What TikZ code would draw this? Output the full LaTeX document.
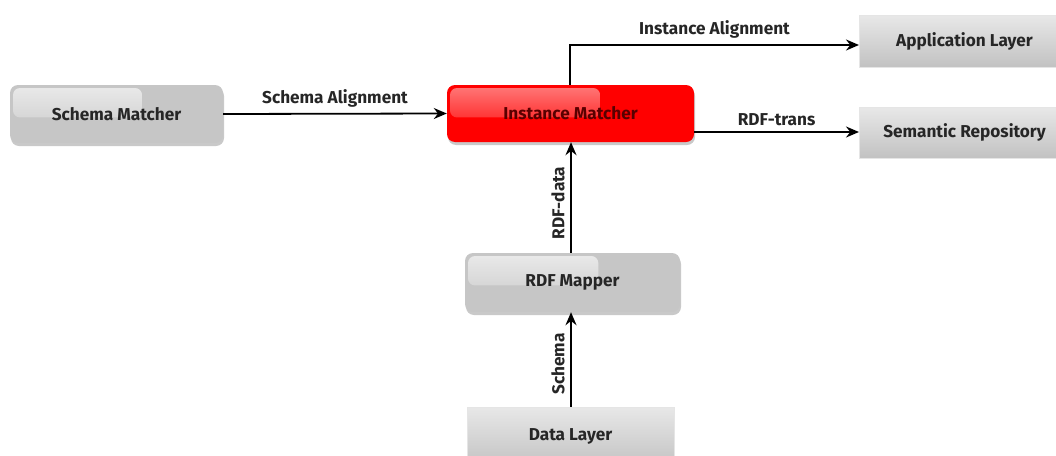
\documentclass[tikz,border=0pt]{standalone}
\usepackage{fontspec}
\setmainfont{Fira Sans}
\usetikzlibrary{arrows.meta,shadows,calc}

\definecolor{boxgray}{HTML}{C6C6C6}
\definecolor{boxlight}{HTML}{EAEAEA}
\definecolor{matred}{HTML}{FF0000}
\definecolor{matredlight}{HTML}{FF7A7A}
\definecolor{layertop}{HTML}{E8E8E8}
\definecolor{layerbot}{HTML}{C2C2C2}

\tikzset{
  lbl/.style={font=\bfseries\fontsize{17.2}{20}\selectfont, text=black!85},
  glossy/.style 2 args={rounded corners=8pt, fill=#1, draw=none,
    drop shadow={shadow xshift=1pt, shadow yshift=-3pt, opacity=0.3, fill=black!70},
    path picture={
      \fill[top color=#2, bottom color=#1, rounded corners=7pt]
        ($(path picture bounding box.north west)+(3pt,-3pt)$) rectangle
        ($(path picture bounding box.north west)!0.62!(path picture bounding box.north east)
          + (0,{-0.56*58pt})$);
    }},
  matcher/.style={glossy={boxgray}{boxlight}, lbl},
  redmatcher/.style={glossy={matred}{matredlight}, lbl, text=black!65!red},
  layer/.style={rectangle, draw=black!10, line width=1pt,
    top color=layertop, bottom color=layerbot, lbl},
  flow/.style={-{Stealth[length=13pt,width=11pt]}, line width=1.8pt, black},
  flowlbl/.style={lbl},
}

\begin{document}
\begin{tikzpicture}[x=1pt,y=-1pt]
\useasboundingbox (0,0) rectangle (1056,455);
\clip (0,0) rectangle (1056,455);

% processing components
\node[matcher, minimum width=213pt, minimum height=58pt] (sm) at (116.5,114) {Schema Matcher};
\node[redmatcher, minimum width=247pt, minimum height=57pt] (im) at (570.5,113.5) {Instance Matcher};
\node[matcher, minimum width=215pt, minimum height=59pt] (rm) at (572.5,282.5) {RDF Mapper};

% layers and repositories
\node[layer, minimum width=210pt, minimum height=52pt, anchor=west] (al) at (859,41) {Application Layer};
\node[layer, minimum width=210pt, minimum height=51pt, anchor=west] (sr) at (859,132.5) {Semantic Repository};
\node[layer, minimum width=207pt, minimum height=60pt] (dl) at (570.5,437) {\raisebox{4pt}{Data Layer}};

% data flows
\draw[flow] (sm.east) -- node[flowlbl, above=2pt] {Schema Alignment} (im.west);
\coordinate (up) at (570,45);
\draw[flow] (im.north -| up) -- (up) -- node[flowlbl, above=2pt] {Instance Alignment} (al.west |- up);
\draw[flow] (im.east |- 0,132) -- node[flowlbl, above=2pt] {RDF-trans} (sr.west |- 0,132);
\draw[flow] (rm.north -| 571,0) -- node[flowlbl, rotate=90, above=2pt, pos=0.45] {RDF-data} (im.south -| 571,0);
\draw[flow] (dl.north -| 571,0) -- node[flowlbl, rotate=90, above=2pt, pos=0.45] {Schema} (rm.south -| 571,0);
\end{tikzpicture}
\end{document}
